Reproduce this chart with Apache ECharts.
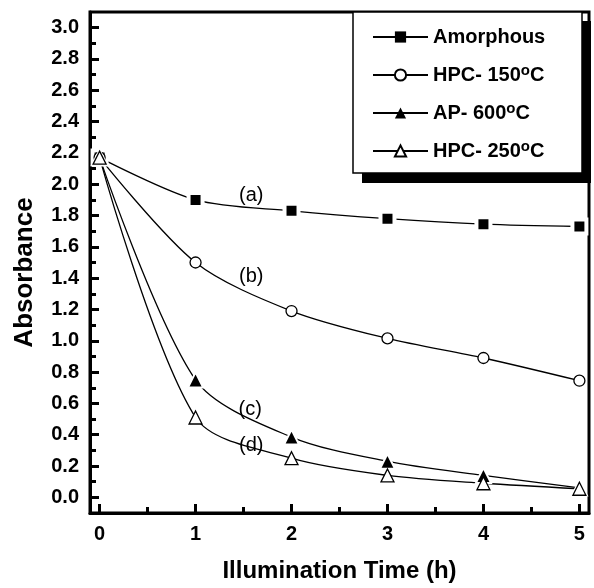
<!DOCTYPE html>
<html>
<head>
<meta charset="utf-8">
<script src="https://cdn.jsdelivr.net/npm/echarts@6/dist/echarts.min.js"></script>
<style>
html,body{margin:0;padding:0;background:#fff;}
#chart{width:594px;height:588px;}
</style>
</head>
<body>
<div id="chart"></div>
<script>
// ---- data ----
const times = [0, 1, 2, 3, 4, 5];
const amorphous = [2.17, 1.90, 1.83, 1.78, 1.745, 1.73];
const hpc150 = [2.17, 1.50, 1.19, 1.015, 0.89, 0.745];
const ap600 = [2.17, 0.75, 0.385, 0.23, 0.14, 0.06];
const hpc250 = [2.17, 0.51, 0.25, 0.14, 0.09, 0.055];
const seriesNames = ['Amorphous', 'HPC- 150{s|o}C', 'AP- 600{s|o}C', 'HPC- 250{s|o}C'];
const yMajorTicks = [0.0, 0.2, 0.4, 0.6, 0.8, 1.0, 1.2, 1.4, 1.6, 1.8, 2.0, 2.2, 2.4, 2.6, 2.8, 3.0];
const yMinorTicks = [0.1, 0.3, 0.5, 0.7, 0.9, 1.1, 1.3, 1.5, 1.7, 1.9, 2.1, 2.3, 2.5, 2.7, 2.9];
const xMajorTicks = [0, 1, 2, 3, 4, 5];
const xMinorTicks = [0.5, 1.5, 2.5, 3.5, 4.5];
const annotText = ['(a)', '(b)', '(c)', '(d)'];
const annotX = [1.58, 1.58, 1.57, 1.58];
const annotY = [1.93, 1.41, 0.56, 0.33];

const FONT = '"Liberation Sans", Arial, Helvetica, sans-serif';
const chart = echarts.init(document.getElementById('chart'));

function pairs(ys) { return times.map((t, i) => [t, ys[i]]); }

const lineBase = {
  type: 'line',
  smooth: 0.3,
  lineStyle: { color: '#000', width: 1.3 },
  z: 3
};

const boxGraphics = [
  { type: 'rect', shape: { x: 362, y: 21, width: 229, height: 162 }, style: { fill: '#000' }, z: 8 },
  { type: 'rect', shape: { x: 353, y: 12, width: 229, height: 161 }, style: { fill: '#fff', stroke: '#000', lineWidth: 1.5 }, z: 9 }
];

const option = {
  animation: false,
  backgroundColor: '#fff',
  grid: { left: 90, right: 5, top: 12, bottom: 72, show: true, borderColor: '#000', borderWidth: 3, backgroundColor: 'transparent' },
  xAxis: [{
    type: 'value', min: -0.1, max: 5.1,
    name: 'Illumination Time (h)', nameLocation: 'middle', nameGap: 46,
    nameTextStyle: { fontFamily: FONT, fontWeight: 'bold', fontSize: 24, color: '#000' },
    axisLine: { show: true, onZero: false, lineStyle: { color: '#000', width: 3 } },
    axisTick: { show: true, inside: true, length: 9, lineStyle: { color: '#000', width: 3 }, customValues: xMajorTicks },
    axisLabel: { show: true, margin: 11, fontFamily: FONT, fontWeight: 'bold', fontSize: 20, color: '#000', customValues: xMajorTicks, formatter: v => String(Math.round(v)) },
    splitLine: { show: false }
  }, {
    type: 'value', min: -0.1, max: 5.1, position: 'bottom',
    axisLine: { show: false, onZero: false },
    axisTick: { show: true, inside: true, length: 6, lineStyle: { color: '#000', width: 3 }, customValues: xMinorTicks },
    axisLabel: { show: false },
    splitLine: { show: false }
  }],
  yAxis: [{
    type: 'value', min: -0.1, max: 3.1,
    name: 'Absorbance', nameLocation: 'middle', nameGap: 52, nameRotate: 90,
    nameTextStyle: { fontFamily: FONT, fontWeight: 'bold', fontSize: 26, color: '#000', padding: [0, 20, 0, 0] },
    axisLine: { show: true, onZero: false, lineStyle: { color: '#000', width: 3 } },
    axisTick: { show: true, inside: true, length: 9, lineStyle: { color: '#000', width: 3 }, customValues: yMajorTicks },
    axisLabel: { show: true, margin: 11, fontFamily: FONT, fontWeight: 'bold', fontSize: 20, color: '#000', customValues: yMajorTicks, formatter: v => v.toFixed(1) },
    splitLine: { show: false }
  }, {
    type: 'value', min: -0.1, max: 3.1, position: 'left',
    axisLine: { show: false, onZero: false },
    axisTick: { show: true, inside: true, length: 6, lineStyle: { color: '#000', width: 3 }, customValues: yMinorTicks },
    axisLabel: { show: false },
    splitLine: { show: false }
  }],
  legend: {
    orient: 'vertical',
    left: 353, top: 12,
    padding: [13, 10, 7, 19],
    itemWidth: 55, itemHeight: 14, itemGap: 14,
    data: [
      { name: seriesNames[0], itemStyle: { borderWidth: 0 } },
      { name: seriesNames[1] },
      { name: seriesNames[2], itemStyle: { borderWidth: 0 } },
      { name: seriesNames[3] }
    ],
    textStyle: {
      fontFamily: FONT, fontWeight: 'bold', fontSize: 20, color: '#000', lineHeight: 24,
      rich: { s: { fontFamily: FONT, fontWeight: 'bold', fontSize: 15, color: '#000', verticalAlign: 'top', lineHeight: 13 } }
    },
    z: 10
  },
  graphic: boxGraphics,
  series: [
    Object.assign({}, lineBase, {
      name: seriesNames[0], data: pairs(amorphous),
      symbol: 'rect', symbolSize: 14,
      itemStyle: { color: '#000', borderColor: '#fff', borderWidth: 4 }
    }),
    Object.assign({}, lineBase, {
      name: seriesNames[1], data: pairs(hpc150),
      symbol: 'circle', symbolSize: 11,
      itemStyle: { color: '#fff', borderColor: '#000', borderWidth: 1.3 }
    }),
    Object.assign({}, lineBase, {
      name: seriesNames[2], data: pairs(ap600),
      symbol: 'triangle', symbolSize: 15,
      itemStyle: { color: '#000', borderColor: '#fff', borderWidth: 2 }
    }),
    Object.assign({}, lineBase, {
      name: seriesNames[3], data: pairs(hpc250),
      symbol: 'triangle', symbolSize: 13,
      itemStyle: { color: '#fff', borderColor: '#000', borderWidth: 1.3 }
    })
  ]
};
chart.setOption(option);

// annotations placed through the axis scales
const annotGraphics = annotText.map((t, i) => {
  const p = chart.convertToPixel({ gridIndex: 0 }, [annotX[i], annotY[i]]);
  return {
    type: 'text', x: p[0], y: p[1], z: 5,
    style: { text: t, fill: '#000', font: '20px ' + FONT, align: 'center', verticalAlign: 'middle' }
  };
});
chart.setOption({ graphic: boxGraphics.concat(annotGraphics) });
</script>
</body>
</html>
